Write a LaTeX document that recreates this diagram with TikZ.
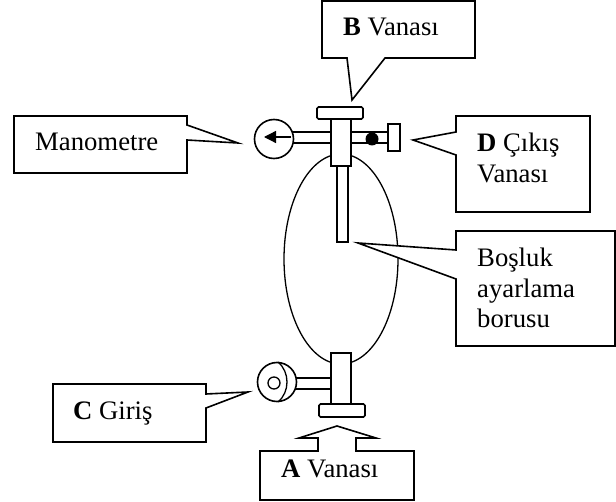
\documentclass[tikz,border=0pt]{standalone}
\usepackage{fontspec}
\setmainfont{Liberation Serif}
\usepackage{tikz}
\usetikzlibrary{arrows.meta}

\begin{document}
\begin{tikzpicture}[
        x=1pt, y=-1pt,
        balon/.style={draw, line width=1.6pt, fill=white, line join=miter},
        parca/.style={draw, line width=1.6pt, fill=white},
        kapak/.style={parca, rounded corners=1.5pt},
        etiket/.style={anchor=base west, inner sep=0pt,
            font=\fontsize{26.7}{30.5}\selectfont}
    ]
        \useasboundingbox (0,0) rectangle (616,502);
        \newcommand{\balonCiz}[1]{\draw[balon] #1 -- cycle;}
        \newcommand{\satirlar}[1]{\begin{tabular}[t]{@{}l@{}}#1\end{tabular}}

        % hazne
        \draw[line width=1.3pt] (341,259) ellipse (57 and 105);

        % boru ve vanalar (ust)
        \draw[parca] (337,166) rectangle (348,242);
        \draw[parca] (290,132) rectangle (331,143);
        \draw[parca] (351,132) rectangle (388,143);
        \draw[parca] (388,124) rectangle (400,151);
        \fill (372,139) circle (6.5);
        \draw[parca] (331,119) rectangle (351,166);
        \draw[kapak] (317,107) rectangle (363,119);
        \draw[parca] (274,139) circle (19.5);
        \coordinate (ibreBas) at (291,137);
        \coordinate (ibreUc) at (264,137);
        \draw[line width=1.3pt, -{Stealth[length=12pt, width=12pt, inset=0pt]}] (ibreBas) -- (ibreUc);

        % boru ve vanalar (alt)
        \draw[parca] (295,378) rectangle (331,389);
        \draw[parca] (331,353) rectangle (351,404);
        \draw[kapak] (319,404) rectangle (365,417);
        \draw[parca] (277,382) circle (19.5);
        \draw[line width=1.3pt] (278,362) .. controls (290,372) and (290,392) .. (278,402);
        \draw[line width=1.3pt] (274,383) circle (6);

        % balonlar
        \balonCiz{(322,1) -- (475,1) -- (475,58) -- (385,58) -- (352,100) -- (347,58) -- (322,58)}
        \balonCiz{(456,116) -- (590,116) -- (590,212) -- (456,212) -- (456,155) -- (413,140) -- (456,132)}
        \balonCiz{(456,231) -- (615,231) -- (615,346) -- (456,346) -- (456,279) -- (358,243) -- (456,250)}
        \balonCiz{(14,116) -- (187,116) -- (187,125) -- (238,143) -- (187,140) -- (187,173) -- (14,173)}
        \balonCiz{(53,384) -- (206,384) -- (206,394) -- (248,392) -- (206,408) -- (206,442) -- (53,442)}
        \balonCiz{(260,451) -- (318,451) -- (318,438) -- (299,438) -- (337,426) -- (376,438) -- (356,438) -- (356,451) -- (414,451) -- (414,500) -- (260,500)}

        \node[etiket] (vanaB) at (343,36) {\textbf{B} Vanası};
        \node[etiket] (vanaD) at (477,152) {\satirlar{\textbf{D} Çıkış\\Vanası}};
        \node[etiket] (bosluk) at (477,267) {\satirlar{Boşluk\\ayarlama\\borusu}};
        \node[etiket] (manometre) at (35,151) {Manometre};
        \node[etiket] (giris) at (73,420) {\textbf{C} Giriş};
        \node[etiket] (vanaA) at (281,478) {\textbf{A} Vanası};
    \end{tikzpicture}
\end{document}
